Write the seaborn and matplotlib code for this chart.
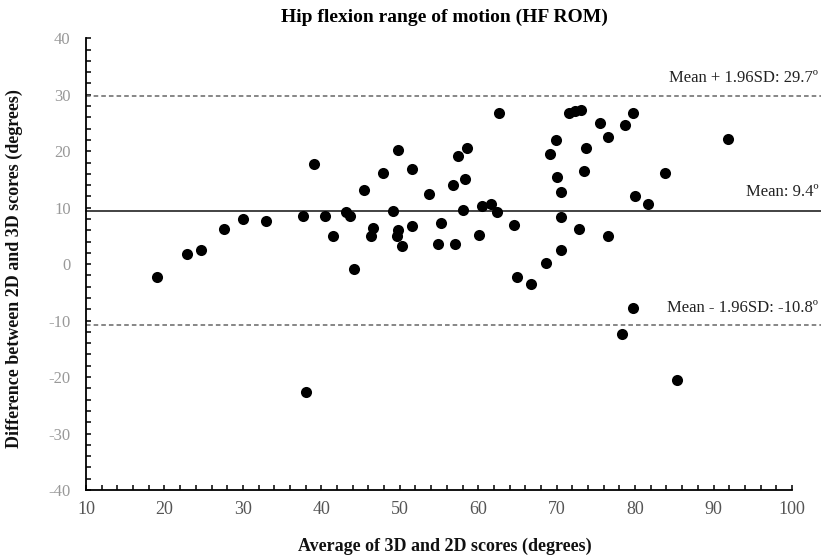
import matplotlib
matplotlib.use("Agg")
import matplotlib.pyplot as plt
import matplotlib.transforms as mtransforms
from matplotlib.ticker import MultipleLocator
import seaborn as sns
import pandas as pd

# ---- data ----
avg_scores = [19.0, 22.9, 24.7, 27.6, 30.0, 33.0, 37.6, 39.1, 40.5, 41.5,
              43.2, 43.7, 44.2, 45.4, 46.6, 46.3, 47.9, 49.1, 49.8, 49.6,
              49.8, 50.3, 51.5, 51.5, 53.7, 55.2, 54.9, 57.1, 56.8, 57.4,
              58.6, 58.3, 58.1, 60.1, 60.5, 61.6, 62.4, 62.6, 64.5, 65.0,
              66.7, 68.6, 69.1, 69.9, 70.1, 70.6, 70.6, 70.6, 71.6, 72.3,
              73.1, 72.9, 73.5, 73.8, 75.5, 76.5, 76.5, 78.7, 79.7, 80.0,
              81.6, 83.8, 91.9, 79.7, 38.1, 78.3, 85.3]
diff_scores = [-2.2, 1.8, 2.5, 6.3, 8.0, 7.6, 8.6, 17.8, 8.6, 4.9,
               9.3, 8.6, -0.9, 13.1, 6.4, 4.9, 16.1, 9.5, 20.2, 4.9,
               6.0, 3.2, 16.8, 6.7, 12.4, 7.3, 3.6, 3.6, 14.1, 19.2,
               20.6, 15.1, 9.6, 5.2, 10.3, 10.7, 9.3, 26.7, 7.0, -2.2,
               -3.5, 0.2, 19.5, 21.9, 15.5, 12.8, 8.3, 2.5, 26.7, 27.2,
               27.3, 6.3, 16.5, 20.6, 25.0, 22.6, 4.9, 24.6, 26.7, 12.0,
               10.7, 16.1, 22.2, -7.8, -22.7, -12.4, -20.5]

mean_diff = 9.4
upper_loa = 29.7
lower_loa = -10.8

title = "Hip flexion range of motion (HF ROM)"
x_label = "Average of 3D and 2D scores (degrees)"
y_label = "Difference between 2D and 3D scores (degrees)"
x_ticks = [10, 20, 30, 40, 50, 60, 70, 80, 90, 100]
y_ticks = [-40, -30, -20, -10, 0, 10, 20, 30, 40]

df = pd.DataFrame({"avg": avg_scores, "diff": diff_scores})

# ---- style ----
sns.set_style("ticks")
plt.rcParams["font.family"] = ["Liberation Serif", "DejaVu Serif"]
plt.rcParams["axes.unicode_minus"] = False

fig = plt.figure(figsize=(8.21, 5.59), dpi=100)
ax = fig.add_axes([86 / 821, 1 - 490 / 559, 706 / 821, (490 - 38.3) / 559])

sns.scatterplot(data=df, x="avg", y="diff", ax=ax, color="black",
                s=64, edgecolor="black", linewidth=0, zorder=3)

ax.set_xlim(10, 100)
ax.set_ylim(-40, 40)
ax.set_xticks(x_ticks)
ax.set_yticks(y_ticks)
ax.xaxis.set_minor_locator(MultipleLocator(2))
ax.yaxis.set_minor_locator(MultipleLocator(2))

ax.tick_params(axis="both", which="both", direction="in", color="black",
               width=1.1, length=3.5)
ax.tick_params(axis="x", which="major", labelsize=13, labelcolor="#555555", pad=8)
ax.tick_params(axis="y", which="major", labelsize=12, labelcolor="#999999", pad=11)

for side in ["top", "right"]:
    ax.spines[side].set_visible(False)
for side in ["left", "bottom"]:
    ax.spines[side].set_color("black")
    ax.spines[side].set_linewidth(1.3)

# reference lines extending into the right margin
line_end = (821 - 86) / 706
ax.axhline(mean_diff, xmin=0, xmax=line_end, color="#222222", lw=1.2,
           clip_on=False, zorder=2)
ax.axhline(upper_loa, xmin=0, xmax=line_end, color="#666666", lw=1.1,
           ls=(0, (3, 2)), clip_on=False, zorder=2)
ax.axhline(lower_loa, xmin=0, xmax=line_end, color="#666666", lw=1.1,
           ls=(0, (3, 2)), clip_on=False, zorder=2)

trans = mtransforms.blended_transform_factory(ax.transAxes, ax.transData)
tx = (818 - 86) / 706
ax.text(tx, upper_loa + 3.3, f"Mean + 1.96SD: {upper_loa}º", transform=trans,
        ha="right", va="center", fontsize=12, color="#222222", clip_on=False)
ax.text(tx, mean_diff + 3.4, f"Mean: {mean_diff}º", transform=trans,
        ha="right", va="center", fontsize=12, color="#222222", clip_on=False)
ax.text(tx, lower_loa + 3.1, f"Mean - 1.96SD: {lower_loa}º", transform=trans,
        ha="right", va="center", fontsize=12, color="#222222", clip_on=False)

ax.text(0.507, (490 - 17) / 451.7, title, transform=ax.transAxes,
        ha="center", va="center", fontsize=14, fontweight="bold", color="black")
ax.set_xlabel(x_label, fontsize=13, fontweight="bold", color="#111111")
ax.set_ylabel(y_label, fontsize=13, fontweight="bold", color="#111111")
ax.xaxis.set_label_coords(0.508, (490 - 546) / 451.7)
ax.yaxis.set_label_coords((14 - 86) / 706, 0.49)
ax.xaxis.label.set_va("center")
ax.yaxis.label.set_va("center")

fig.savefig("out.png", dpi=100)
